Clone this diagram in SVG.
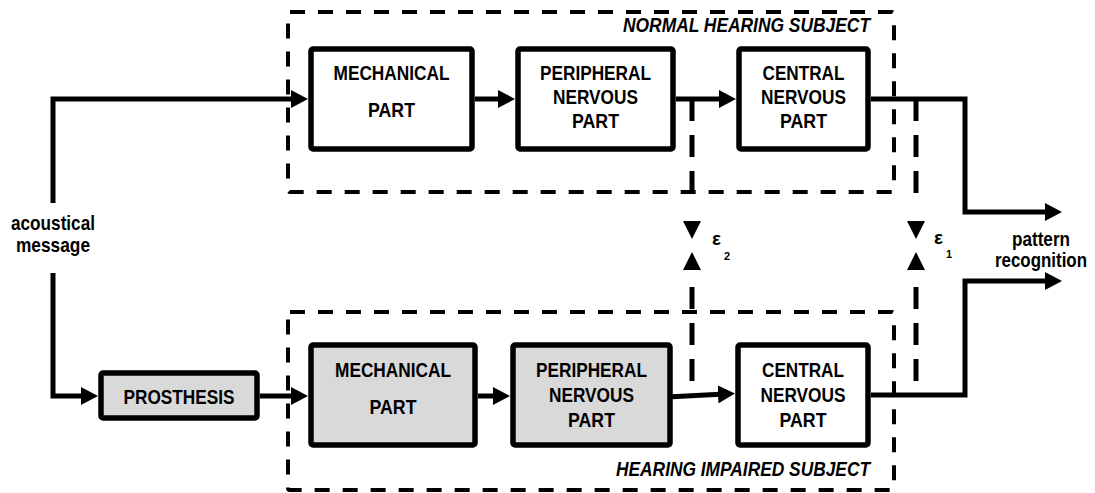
<svg xmlns="http://www.w3.org/2000/svg" width="1095" height="493" viewBox="0 0 1095 493">
<style>
.bg{fill:#ffffff}
.box{fill:#ffffff;stroke:#000;stroke-width:5.5;stroke-linejoin:round}
.gray{fill:#d9d9d9}
.grp{fill:none;stroke:#000;stroke-width:4;stroke-dasharray:15 13}
.con{fill:none;stroke:#000;stroke-width:5;stroke-linejoin:miter;stroke-linecap:butt}
.eps{fill:none;stroke:#000;stroke-width:5;stroke-dasharray:22 14}
.tri{fill:#000}
text{font-family:"Liberation Sans Narrow","Liberation Sans",Arial,sans-serif;font-weight:bold;font-size:21px;fill:#000}
.lbl{text-anchor:middle}
.it{font-style:italic;text-anchor:end}
.gk{font-family:"Liberation Sans","DejaVu Sans",sans-serif;font-size:19px}
.sub{font-family:"Liberation Sans","DejaVu Sans",sans-serif;font-size:11px}
</style>
<defs>
<marker id="ah" markerUnits="userSpaceOnUse" markerWidth="18" markerHeight="18" refX="7" refY="9" orient="auto">
<path d="M0,0 L17,9 L0,18 z" fill="#000"/>
</marker>
</defs>
<rect class="bg" x="0" y="0" width="1095" height="493"/>

<g id="group-normal">
<rect class="grp" x="288" y="12" width="606" height="180" rx="2"/>
<text class="it" x="870" y="32" textLength="247" lengthAdjust="spacingAndGlyphs">NORMAL HEARING SUBJECT</text>
</g>
<g id="group-impaired">
<rect class="grp" x="288" y="312" width="606" height="178" rx="2"/>
<text class="it" x="870" y="476" textLength="254" lengthAdjust="spacingAndGlyphs">HEARING IMPAIRED SUBJECT</text>
</g>

<g id="connectors">
<path class="con" d="M53,203 V99 H298" marker-end="url(#ah)"/>
<path class="con" d="M475,99 H505" marker-end="url(#ah)"/>
<path class="con" d="M676,99 H726" marker-end="url(#ah)"/>
<path class="con" d="M871,99 H965 V212 H1052" marker-end="url(#ah)"/>
<path class="con" d="M53,273 V396 H88" marker-end="url(#ah)"/>
<path class="con" d="M260,396 H298" marker-end="url(#ah)"/>
<path class="con" d="M478,396 H500" marker-end="url(#ah)"/>
<path class="con" d="M667,397 L725,394" marker-end="url(#ah)"/>
<path class="con" d="M871,395 H965 V281 H1052" marker-end="url(#ah)"/>
<path class="eps" d="M692,99 V205"/>
<path class="eps" d="M692,287 V394"/>
<path class="eps" d="M916,99 V205"/>
<path class="eps" d="M916,287 V395"/>
<polygon class="tri" points="683,221 701,221 692,239"/>
<polygon class="tri" points="683,270 701,270 692,252"/>
<polygon class="tri" points="907,221 925,221 916,239"/>
<polygon class="tri" points="907,270 925,270 916,252"/>
</g>

<g id="mech-top">
<rect class="box" x="311" y="49" width="161" height="100" rx="2"/>
<text class="lbl" x="391.5" y="80" textLength="116" lengthAdjust="spacingAndGlyphs">MECHANICAL</text>
<text class="lbl" x="391.5" y="117" textLength="47" lengthAdjust="spacingAndGlyphs">PART</text>
</g>
<g id="periph-top">
<rect class="box" x="518" y="49" width="155" height="100" rx="2"/>
<text class="lbl" x="595.5" y="80" textLength="111" lengthAdjust="spacingAndGlyphs">PERIPHERAL</text>
<text class="lbl" x="595.5" y="104" textLength="85" lengthAdjust="spacingAndGlyphs">NERVOUS</text>
<text class="lbl" x="595.5" y="128" textLength="47" lengthAdjust="spacingAndGlyphs">PART</text>
</g>
<g id="central-top">
<rect class="box" x="739" y="49" width="129" height="100" rx="2"/>
<text class="lbl" x="803.5" y="80" textLength="82" lengthAdjust="spacingAndGlyphs">CENTRAL</text>
<text class="lbl" x="803.5" y="104" textLength="85" lengthAdjust="spacingAndGlyphs">NERVOUS</text>
<text class="lbl" x="803.5" y="128" textLength="47" lengthAdjust="spacingAndGlyphs">PART</text>
</g>

<g id="prosthesis">
<rect class="box gray" x="101" y="373" width="156" height="45" rx="2"/>
<text class="lbl" x="179" y="404" textLength="111" lengthAdjust="spacingAndGlyphs">PROSTHESIS</text>
</g>
<g id="mech-bottom">
<rect class="box gray" x="311" y="345" width="164" height="100" rx="2"/>
<text class="lbl" x="393" y="377" textLength="116" lengthAdjust="spacingAndGlyphs">MECHANICAL</text>
<text class="lbl" x="393" y="414" textLength="47" lengthAdjust="spacingAndGlyphs">PART</text>
</g>
<g id="periph-bottom">
<rect class="box gray" x="513" y="345" width="157" height="100" rx="2"/>
<text class="lbl" x="591.5" y="377" textLength="111" lengthAdjust="spacingAndGlyphs">PERIPHERAL</text>
<text class="lbl" x="591.5" y="402" textLength="85" lengthAdjust="spacingAndGlyphs">NERVOUS</text>
<text class="lbl" x="591.5" y="427" textLength="47" lengthAdjust="spacingAndGlyphs">PART</text>
</g>
<g id="central-bottom">
<rect class="box" x="738" y="345" width="130" height="100" rx="2"/>
<text class="lbl" x="803" y="377" textLength="82" lengthAdjust="spacingAndGlyphs">CENTRAL</text>
<text class="lbl" x="803" y="402" textLength="85" lengthAdjust="spacingAndGlyphs">NERVOUS</text>
<text class="lbl" x="803" y="427" textLength="47" lengthAdjust="spacingAndGlyphs">PART</text>
</g>

<g id="input-label">
<text class="lbl" x="53" y="230" textLength="84" lengthAdjust="spacingAndGlyphs">acoustical</text>
<text class="lbl" x="53" y="252" textLength="74" lengthAdjust="spacingAndGlyphs">message</text>
</g>
<g id="output-label">
<text class="lbl" x="1041" y="246" textLength="58" lengthAdjust="spacingAndGlyphs">pattern</text>
<text class="lbl" x="1041" y="267" textLength="92" lengthAdjust="spacingAndGlyphs">recognition</text>
</g>
<g id="eps2">
<text class="gk" x="712" y="245">ε</text>
<text class="sub" x="724" y="260">2</text>
</g>
<g id="eps1">
<text class="gk" x="934" y="244">ε</text>
<text class="sub" x="946" y="258">1</text>
</g>
</svg>
